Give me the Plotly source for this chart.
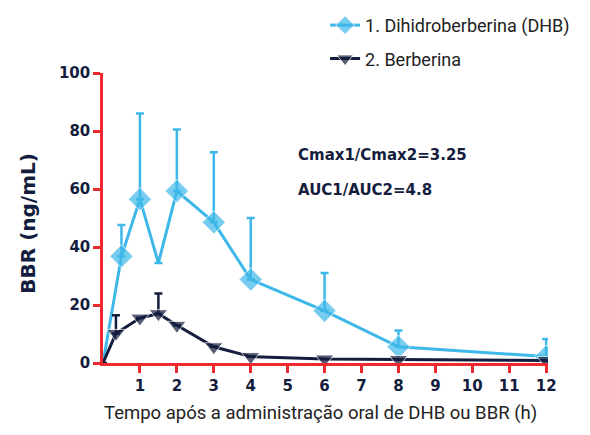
import plotly.graph_objects as go

# DHB (Dihidroberberina)
dhb_t = [0, 0.5, 1, 1.5, 2, 3, 4, 6, 8, 12]
dhb_c = [0, 36.8, 56.5, 34.5, 59.3, 48.5, 28.8, 18, 5.6, 2.2]
dhb_err = [0, 10.8, 29.5, 0, 21.2, 24.2, 21.2, 13, 5.6, 6.1]
dhb_marker = [0, 1, 1, 0, 1, 1, 1, 1, 1, 1]

# Berberina
bbr_t = [0, 0.35, 1, 1.5, 2, 3, 4, 6, 8, 12]
bbr_c = [0, 10.2, 15.5, 17, 13, 5.6, 2.2, 1.4, 1.2, 0.9]
bbr_err = [0, 6.3, 0, 7, 0, 0, 0, 0, 0, 0]
bbr_marker = [0, 1, 1, 1, 1, 1, 1, 1, 1, 1]

x_ticks = list(range(1, 13))
y_ticks = [0, 20, 40, 60, 80, 100]

BLUE = "#3db8e9"
NAVY = "#141d3d"
RED = "#ee2a2f"
NARROW = "Liberation Sans Narrow, Roboto, sans-serif"

fig = go.Figure()
fig.add_trace(go.Scatter(
    x=dhb_t, y=dhb_c, name="1. Dihidroberberina (DHB)",
    mode="lines+markers", legendgroup="a",
    line=dict(color=BLUE, width=3),
    marker=dict(symbol="diamond", size=[s * 18 for s in dhb_marker], color=BLUE),
    error_y=dict(type="data", array=dhb_err, arrayminus=[0] * len(dhb_err),
                 symmetric=False, color=BLUE, thickness=2.5, width=4),
))
fig.add_trace(go.Scatter(
    x=bbr_t, y=bbr_c, name="2. Berberina",
    mode="lines+markers", legendgroup="b",
    line=dict(color=NAVY, width=3),
    marker=dict(symbol="triangle-down", size=[s * 16 for s in bbr_marker], color=NAVY),
    error_y=dict(type="data", array=bbr_err, arrayminus=[0] * len(bbr_err),
                 symmetric=False, color=NAVY, thickness=2.5, width=4),
))

bold = dict(family="DejaVu Sans", color=NAVY, weight="bold")
ann = dict(xref="paper", yref="paper", xanchor="center", yanchor="middle", showarrow=False)
fig.add_annotation(x=0.628, y=0.717, text="Cmax1/Cmax2=3.25",
                   font=dict(size=15, **bold), **ann)
fig.add_annotation(x=0.589, y=0.597, text="AUC1/AUC2=4.8",
                   font=dict(size=15, **bold), **ann)
fig.add_annotation(x=-0.169, y=0.483, textangle=-90, text="BBR (ng/mL)",
                   font=dict(size=20, **bold), **ann)
fig.add_annotation(x=0.488, y=-0.172,
                   text="Tempo após a administração oral de DHB ou BBR (h)",
                   font=dict(family=NARROW, size=18.5, color="#222222"), **ann)

fig.update_layout(
    width=590, height=435,
    margin=dict(l=95, r=50, t=65, b=80, autoexpand=False),
    plot_bgcolor="white", paper_bgcolor="white",
    showlegend=True,
    legend=dict(x=0.499, y=1.228, xanchor="left", yanchor="top",
                font=dict(family=NARROW, size=18, color="#222222"),
                tracegroupgap=7, bgcolor="rgba(0,0,0,0)", itemwidth=30),
    xaxis=dict(range=[0, 12.05], tickvals=x_ticks, ticktext=[str(v) for v in x_ticks],
               automargin=False,
               showgrid=False, zeroline=False, showline=True, linecolor=RED, linewidth=2.5,
               ticks="outside", tickcolor=RED, tickwidth=2.5, ticklen=7,
               tickfont=dict(size=15, **bold)),
    yaxis=dict(range=[0, 100], tickvals=y_ticks, automargin=False,
               showgrid=False, zeroline=False, showline=True, linecolor=RED, linewidth=2.5,
               ticks="outside", tickcolor=RED, tickwidth=2.5, ticklen=7,
               tickfont=dict(size=15, **bold)),
)

fig.write_html("out.html")
